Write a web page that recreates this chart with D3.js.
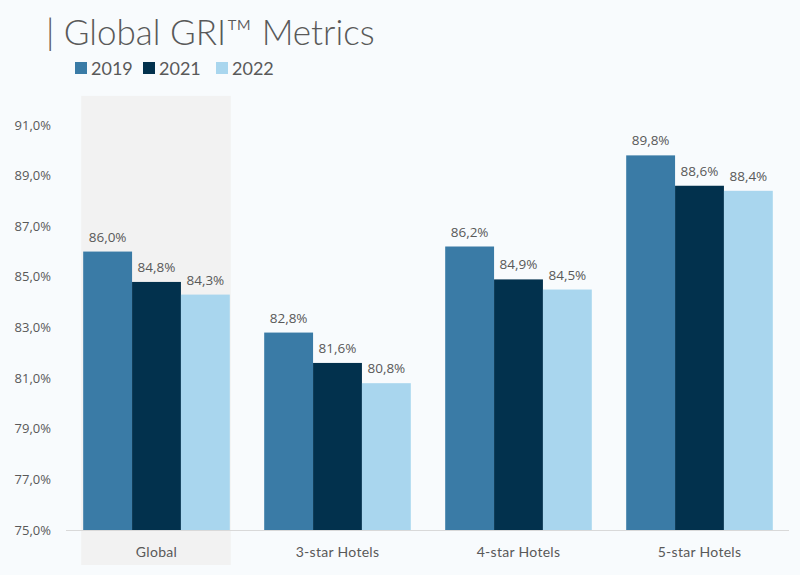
<!DOCTYPE html>
<html>
<head>
<meta charset="utf-8">
<script src="https://cdn.jsdelivr.net/npm/d3@7"></script>
<style>
  body { margin: 0; background: #f8fbfd; }
  svg { display: block; }
</style>
</head>
<body>
<div id="viz"></div>
<script>
var categories = ["Global", "3-star Hotels", "4-star Hotels", "5-star Hotels"];
var years = ["2019", "2021", "2022"];
var values2019 = [86.0, 82.8, 86.2, 89.8];
var values2021 = [84.8, 81.6, 84.9, 88.6];
var values2022 = [84.3, 80.8, 84.5, 88.4];
var yTicks = [75, 77, 79, 81, 83, 85, 87, 89, 91];

var colors = ["#3a7ba6", "#02314d", "#a9d6ee"];
var width = 800, height = 575;
var textColor = "#595959";

var series = [values2019, values2021, values2022];

var svg = d3.select("#viz").append("svg")
    .attr("width", width)
    .attr("height", height);

var x0 = d3.scaleBand().domain(categories).range([66, 790]).paddingInner(0.19).paddingOuter(0.095);
var x1 = d3.scaleBand().domain(years).range([0, x0.bandwidth()]);
var y = d3.scaleLinear().domain([75, 91]).range([530, 125]);

var fmt = function(v){ return d3.format(".1f")(v).replace(".", ",") + "%"; };

// highlight behind Global
svg.append("rect")
    .attr("x", x0("Global") - 2)
    .attr("y", y(92.15))
    .attr("width", x0.bandwidth() + 3)
    .attr("height", 565 - y(92.15))
    .style("fill", "#f2f2f2");

// title
svg.append("text")
    .attr("x", 46).attr("y", 45)
    .style("font-family", "Lato").style("font-weight", 300)
    .style("font-size", "35px").style("fill", textColor)
    .text("| Global GRI\u2122 Metrics");

// legend
var legendX = [75, 143, 216];
var legend = svg.selectAll(".legend").data(years).enter().append("g")
    .attr("transform", function(d, i){ return "translate(" + legendX[i] + ",62)"; });
legend.append("rect").attr("width", 12).attr("height", 12)
    .style("fill", function(d, i){ return colors[i]; });
legend.append("text").attr("x", 16).attr("y", 12.5)
    .style("font-family", "Lato").style("font-size", "18px").style("fill", textColor)
    .text(function(d){ return d; });

// y tick labels
svg.selectAll(".ytick").data(yTicks).enter().append("text")
    .attr("x", 51).attr("y", function(d){ return y(d); })
    .attr("dy", "0.35em")
    .attr("text-anchor", "end")
    .style("font-family", "Open Sans").style("font-size", "13px").style("fill", textColor)
    .text(fmt);

// bars
var groups = svg.selectAll(".cat").data(categories).enter().append("g")
    .attr("transform", function(d){ return "translate(" + x0(d) + ",0)"; });

groups.selectAll("rect").data(function(d, ci){
        return years.map(function(yr, si){ return {year: yr, val: series[si][ci], si: si}; });
    }).enter().append("rect")
    .attr("x", function(d){ return x1(d.year); })
    .attr("y", function(d){ return y(d.val); })
    .attr("width", x1.bandwidth())
    .attr("height", function(d){ return y(75) - y(d.val); })
    .style("fill", function(d){ return colors[d.si]; });

groups.selectAll("text.val").data(function(d, ci){
        return years.map(function(yr, si){ return {year: yr, val: series[si][ci]}; });
    }).enter().append("text")
    .attr("class", "val")
    .attr("x", function(d){ return x1(d.year) + x1.bandwidth() / 2; })
    .attr("y", function(d){ return y(d.val) - 10; })
    .attr("text-anchor", "middle")
    .style("font-family", "Open Sans").style("font-size", "13.5px").style("fill", textColor)
    .text(function(d){ return fmt(d.val); });

// axis baseline
svg.append("line")
    .attr("x1", 66).attr("x2", 789)
    .attr("y1", y(75) + 0.5).attr("y2", y(75) + 0.5)
    .style("stroke", "#d9d9d9").style("stroke-width", 1);

// category labels
svg.selectAll(".catlabel").data(categories).enter().append("text")
    .attr("x", function(d){ return x0(d) + x0.bandwidth() / 2; })
    .attr("y", 557)
    .attr("text-anchor", "middle")
    .style("font-family", "Lato").style("font-size", "14px").style("fill", textColor)
    .style("letter-spacing", "0.3px")
    .text(function(d){ return d; });
</script>
</body>
</html>
